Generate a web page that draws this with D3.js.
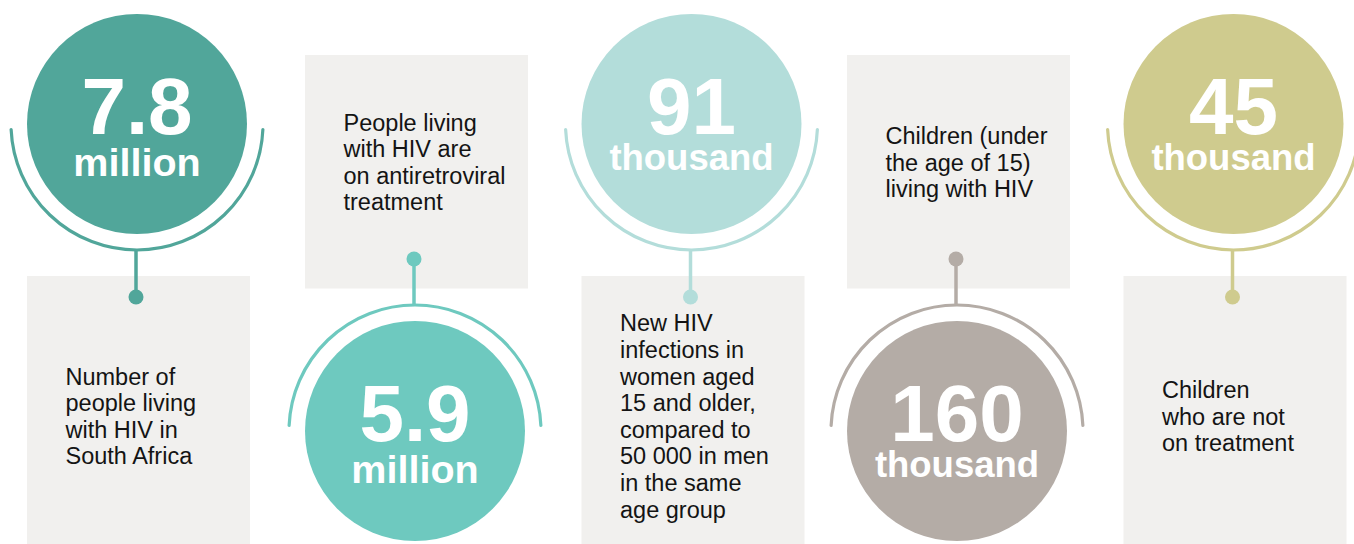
<!DOCTYPE html>
<html><head><meta charset="utf-8">
<script src="https://cdn.jsdelivr.net/npm/d3@7"></script>
<style>html,body{margin:0;padding:0;background:#fff;overflow:hidden}</style>
</head><body><svg id="chart" width="1354" height="544"></svg>
<script>
// ---- data ----
const categories = ["plhiv", "onTreatment", "newInfectionsWomen", "childrenPlhiv", "childrenNotTreated"];
const values = [7.8, 5.9, 91, 160, 45];
const units = ["million", "million", "thousand", "thousand", "thousand"];
const descriptions = [
  ["Number of", "people living", "with HIV in", "South Africa"],
  ["People living", "with HIV are", "on antiretroviral", "treatment"],
  ["New HIV", "infections in", "women aged", "15 and older,", "compared to", "50 000 in men", "in the same", "age group"],
  ["Children (under", "the age of 15)", "living with HIV"],
  ["Children", "who are not", "on treatment"]
];

// ---- styles / layout ----
const palette = ["#51a69a", "#6ec9bf", "#b3ddda", "#b4aca6", "#cfcb8e"];
const panelCenters = [137, 415, 691.5, 957, 1233.5];
const FONT = "'Liberation Sans', Arial, Helvetica, sans-serif";
const unitFont = {million: 39.5, thousand: 36.5};

const svg = d3.select("#chart");
const x = d3.scaleOrdinal().domain(categories).range(panelCenters);
const color = d3.scaleOrdinal().domain(categories).range(palette);

const R = 110, ARC_R = 126, BOX_W = 223;
const delta = Math.asin(5.5 / ARC_R);
const LH = 26.6, DESC_FS = 23.5;

categories.forEach((c, i) => {
  const cx = x(c);
  const col = color(c);
  const top = i % 2 === 0; // circle on top
  const cy = top ? 124 : 431;
  const boxY = top ? 276 : 55;
  const boxH = top ? 268 : 233.5;
  const boxX = cx - 110;
  const g = svg.append("g");

  // box
  g.append("rect").attr("x", boxX).attr("y", boxY).attr("width", BOX_W).attr("height", boxH)
    .attr("fill", "#f1f0ee");

  // arc
  const p = d3.path();
  if (top) p.arc(cx, cy, ARC_R, delta, Math.PI - delta);
  else p.arc(cx, cy, ARC_R, Math.PI + delta, 2 * Math.PI - delta);
  g.append("path").attr("d", p.toString()).attr("fill", "none").attr("stroke", col)
    .attr("stroke-width", 3.2).attr("stroke-linecap", "round");

  // connector + dot
  const dotY = top ? boxY + 21 : boxY + boxH - 29.5;
  const lineStart = top ? cy + ARC_R : cy - ARC_R;
  g.append("line").attr("x1", cx - 1).attr("x2", cx - 1).attr("y1", lineStart).attr("y2", dotY)
    .attr("stroke", col).attr("stroke-width", 3.5);
  g.append("circle").attr("cx", cx - 1).attr("cy", dotY).attr("r", 7.5).attr("fill", col);

  // big circle
  g.append("circle").attr("cx", cx).attr("cy", cy).attr("r", R).attr("fill", col);

  // value text
  const numBase = cy + 10;
  g.append("text").attr("x", cx).attr("y", numBase).attr("text-anchor", "middle")
    .attr("font-family", FONT).attr("font-weight", "bold").attr("font-size", 80)
    .attr("fill", "#fff").text(String(values[i]));
  const ufs = unitFont[units[i]];
  g.append("text").attr("x", cx).attr("y", numBase + (units[i] === "million" ? 42 : 35.5))
    .attr("text-anchor", "middle").attr("font-family", FONT).attr("font-weight", "bold")
    .attr("font-size", ufs).attr("fill", "#fff").text(units[i]);

  // description
  const lines = descriptions[i];
  const centerY = top ? 417 : 163;
  const firstBase = centerY - (lines.length - 1) * LH / 2 + 7.5;
  const t = g.append("text").attr("font-family", FONT).attr("font-size", DESC_FS).attr("fill", "#141414");
  lines.forEach((ln, k) => {
    t.append("tspan").attr("x", boxX + 38.5).attr("y", firstBase + k * LH).text(ln);
  });
});
</script>
</body></html>
